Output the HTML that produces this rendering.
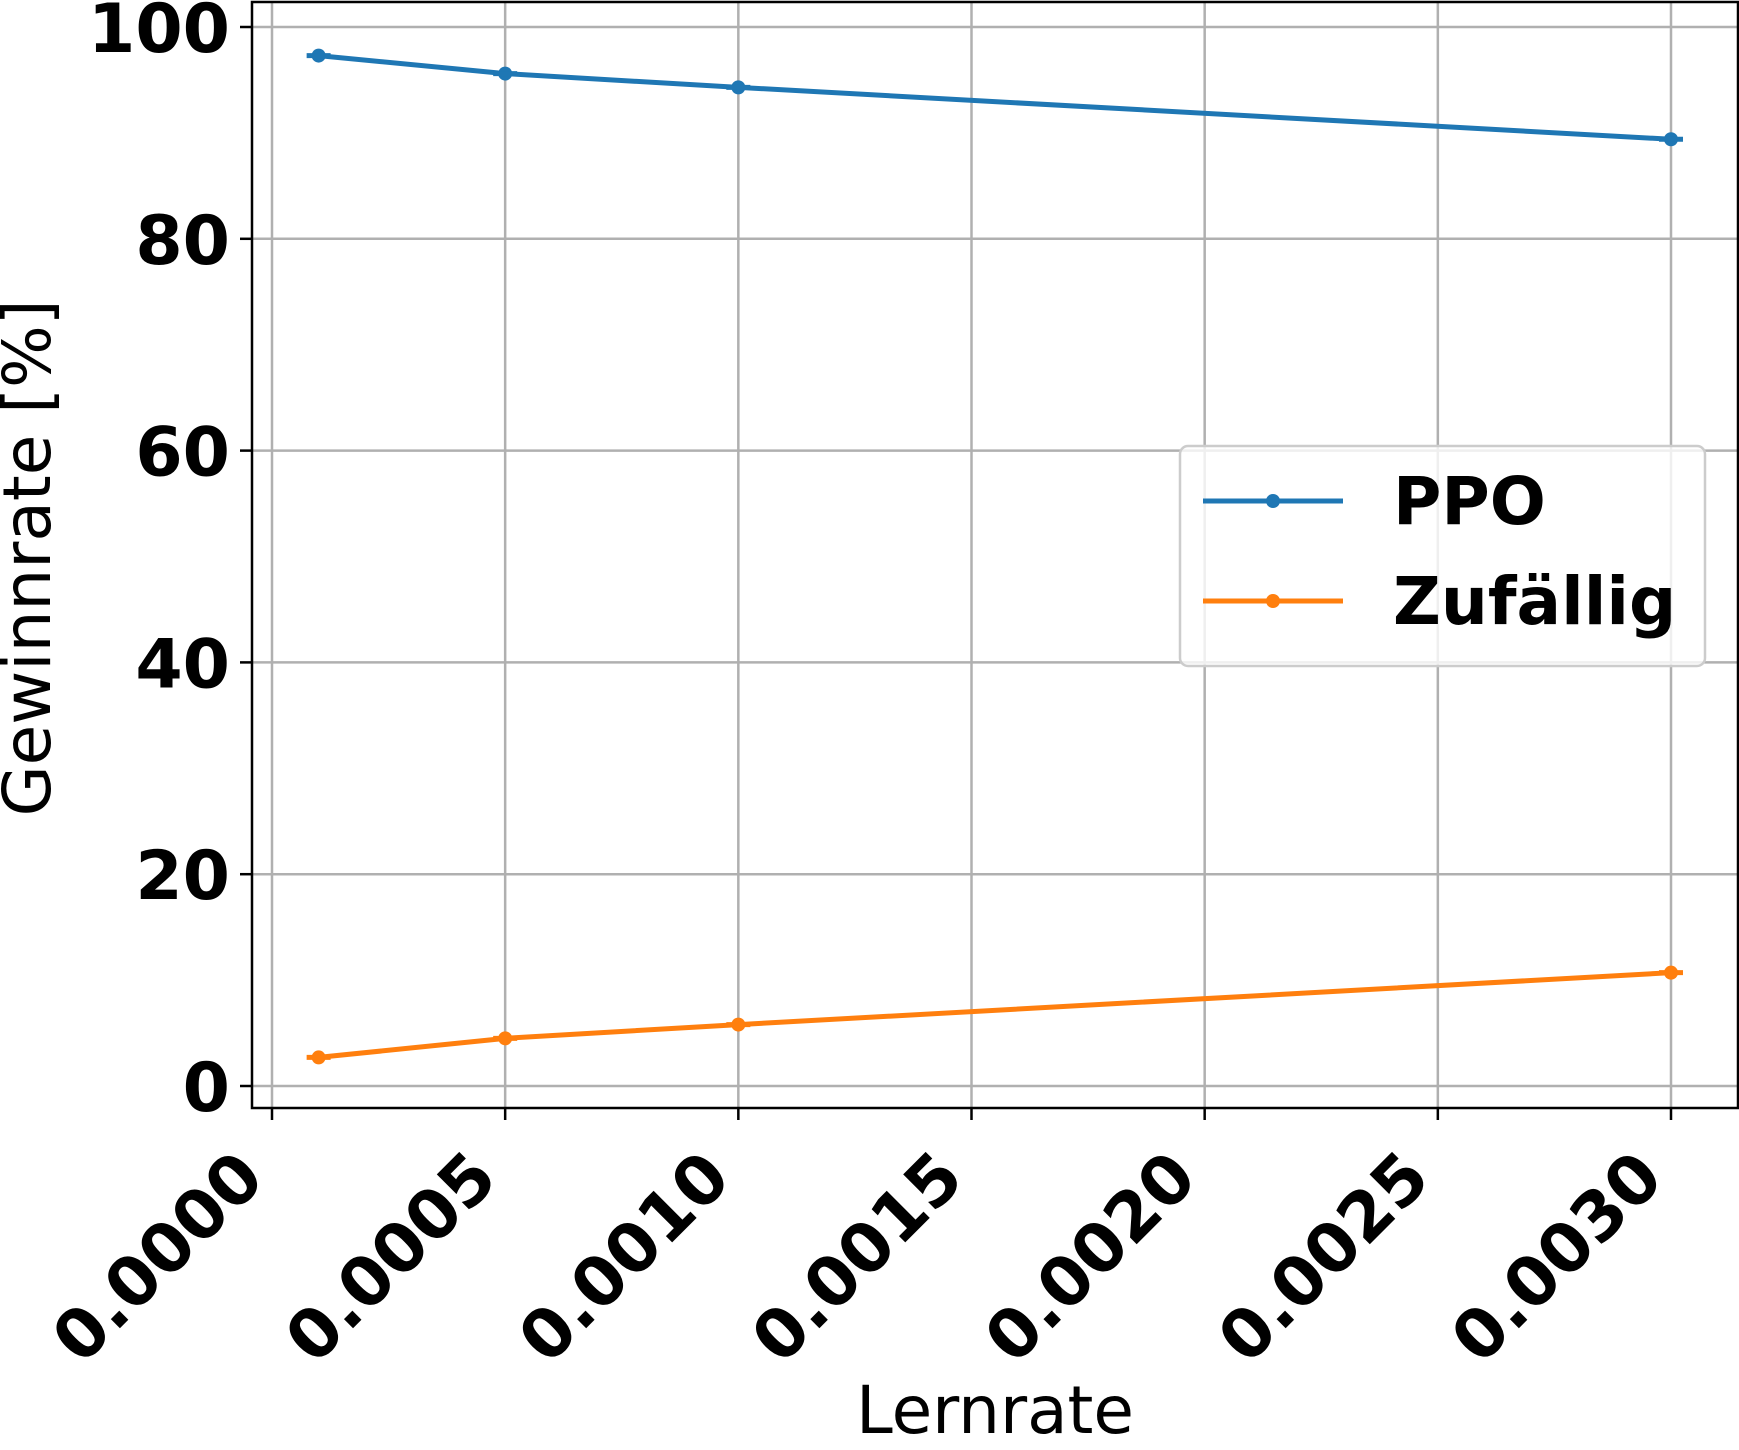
<!DOCTYPE html>
<html><head><meta charset="utf-8"><style>body{margin:0;background:#fff}svg{display:block}</style></head>
<body>
<svg id="chart" width="1739" height="1450" xmlns="http://www.w3.org/2000/svg" font-family="DejaVu Sans, Liberation Sans, sans-serif">
<g id="grid"></g>
<g id="series"></g>
<g id="axes"></g>
<text x="995" y="1433" font-size="66" text-anchor="middle">Lernrate</text>
<text transform="translate(50,558) rotate(-90)" font-size="66" text-anchor="middle">Gewinnrate [%]</text>
<g>
<rect x="1180" y="446" width="525" height="220" rx="8" fill="#fff" fill-opacity="0.8" stroke="#ccc" stroke-width="2.5"/>
<line x1="1203" y1="501" x2="1343" y2="501" stroke="#1f77b4" stroke-width="5"/><circle cx="1273" cy="501" r="7" fill="#1f77b4"/>
<text x="1393" y="524" font-size="66" font-weight="bold">PPO</text>
<line x1="1203" y1="601" x2="1343" y2="601" stroke="#ff7f0e" stroke-width="5"/><circle cx="1273" cy="601" r="7" fill="#ff7f0e"/>
<text x="1393" y="624" font-size="66" font-weight="bold">Zufällig</text>
</g>
</svg>
<script>
const xs = [0.0001, 0.0005, 0.001, 0.003];
const ppo = [97.3, 95.6, 94.3, 89.4];
const zuf = [2.7, 4.5, 5.8, 10.7];
const xTicks = [0, 0.0005, 0.001, 0.0015, 0.002, 0.0025, 0.003];
const xTickLabels = ["0.0000","0.0005","0.0010","0.0015","0.0020","0.0025","0.0030"];
const yTicks = [0, 20, 40, 60, 80, 100];

const NS='http://www.w3.org/2000/svg';
const X=v=>272+v*(1671-272)/0.003;
const Y=v=>1086-v*(1086-27)/100;
const L=252,R=1738,T=2,B=1108;
function mk(tag,attrs,parent){const e=document.createElementNS(NS,tag);for(const k in attrs)e.setAttribute(k,attrs[k]);parent.appendChild(e);return e;}
const grid=document.getElementById('grid'),axes=document.getElementById('axes'),series=document.getElementById('series');
xTicks.forEach((t,i)=>{
  const gl=mk('line',{x1:X(t),x2:X(t),y1:T,y2:B,stroke:'#b0b0b0','stroke-width':2.5},grid);
  
  
  const tk=mk('line',{x1:X(t),x2:X(t),y1:B,y2:B+12,stroke:'#000','stroke-width':2.5},axes);
  
  
  const tx=mk('text',{transform:`translate(${X(t)-40},${B+38}) rotate(-45)`,'font-size':68,'font-weight':'bold','text-anchor':'end','dominant-baseline':'hanging'},axes);
  tx.textContent=xTickLabels[i];
  
  
});
yTicks.forEach(t=>{
  const gl=mk('line',{x1:L,x2:R,y1:Y(t),y2:Y(t),stroke:'#b0b0b0','stroke-width':2.5},grid);
  
  
  const tk=mk('line',{x1:L-12,x2:L,y1:Y(t),y2:Y(t),stroke:'#000','stroke-width':2.5},axes);
  
  
  const tx=mk('text',{x:L-22,y:Y(t)+25,'font-size':68,'font-weight':'bold','text-anchor':'end'},axes);
  tx.textContent=t;
  
  
});
const fr=mk('rect',{x:L,y:T,width:R-L,height:B-T,fill:'none',stroke:'#000','stroke-width':2.5},axes);


function draw(vals,color,name){
  const p=mk('polyline',{points:xs.map((x,i)=>X(x)+','+Y(vals[i])).join(' '),fill:'none',stroke:color,'stroke-width':5},series);
  
  
  xs.forEach((x,i)=>{
    const c=mk('circle',{cx:X(x),cy:Y(vals[i]),r:7,fill:color},series);
    
    
    mk('line',{x1:X(x)-12,x2:X(x)+12,y1:Y(vals[i]),y2:Y(vals[i]),stroke:color,'stroke-width':5},series);
  });
}
draw(ppo,'#1f77b4','ppo');
draw(zuf,'#ff7f0e','zufaellig');
</script>
</body></html>
